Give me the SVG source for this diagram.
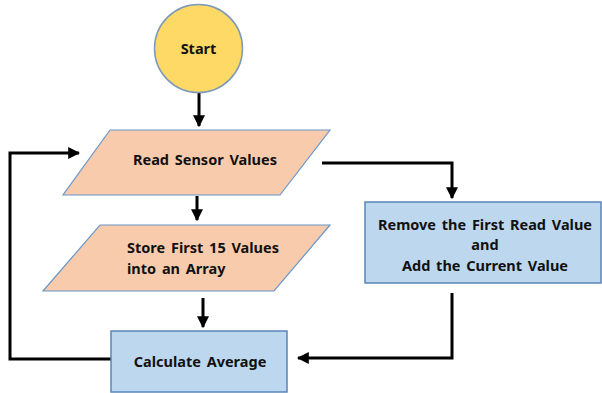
<svg xmlns="http://www.w3.org/2000/svg" width="602" height="393" viewBox="0 0 602 393">
<defs>
<style>
.t{font-family:"Noto Sans","Open Sans",sans-serif;font-weight:bold;font-size:14.5px;word-spacing:2px;fill:#111;}
.c{stroke:#000;stroke-width:3;fill:none;}
.para{fill:#F8CBAD;stroke:#6A96C8;stroke-width:1.2;}
.box{fill:#BDD7EE;stroke:#5A86B8;stroke-width:1.5;}
</style>
<marker id="ah" viewBox="0 0 10 10" refX="9" refY="5" markerWidth="4" markerHeight="4" orient="auto" markerUnits="strokeWidth">
<path d="M0,0 L10,5 L0,10 z" fill="#000"/>
</marker>
</defs>
<rect width="602" height="393" fill="#fff"/>
<g id="connectors">
<path class="c" d="M199,92 V126" marker-end="url(#ah)"/>
<path class="c" d="M197,196 V220" marker-end="url(#ah)"/>
<path class="c" d="M203,298 V327" marker-end="url(#ah)"/>
<path class="c" d="M322,163 H452 V198" marker-end="url(#ah)"/>
<path class="c" d="M452,293 V358 H298" marker-end="url(#ah)"/>
<path class="c" d="M111,359 H10 V153 H79" marker-end="url(#ah)"/>
</g>
<g id="start">
<circle cx="198.5" cy="48.5" r="44" fill="#FFD966" stroke="#7E9AB8" stroke-width="1.5"/>
<text class="t" x="198.5" y="53.5" text-anchor="middle">Start</text>
</g>
<g id="read">
<polygon class="para" points="110,130 330,130 280,195 63,195"/>
<text class="t" x="205" y="165" text-anchor="middle">Read Sensor Values</text>
</g>
<g id="store">
<polygon class="para" points="100,225 330,225 274,291 43,291"/>
<text class="t" x="127" y="253">Store First 15 Values</text>
<text class="t" x="127" y="274">into an Array</text>
</g>
<g id="remove">
<rect class="box" x="365" y="202" width="236" height="81"/>
<text class="t" x="485" y="230" text-anchor="middle">Remove the First Read Value</text>
<text class="t" x="485" y="250" text-anchor="middle">and</text>
<text class="t" x="485" y="271" text-anchor="middle">Add the Current Value</text>
</g>
<g id="calc">
<rect class="box" x="111" y="331" width="176" height="61"/>
<text class="t" x="200" y="367" text-anchor="middle">Calculate Average</text>
</g>
</svg>
